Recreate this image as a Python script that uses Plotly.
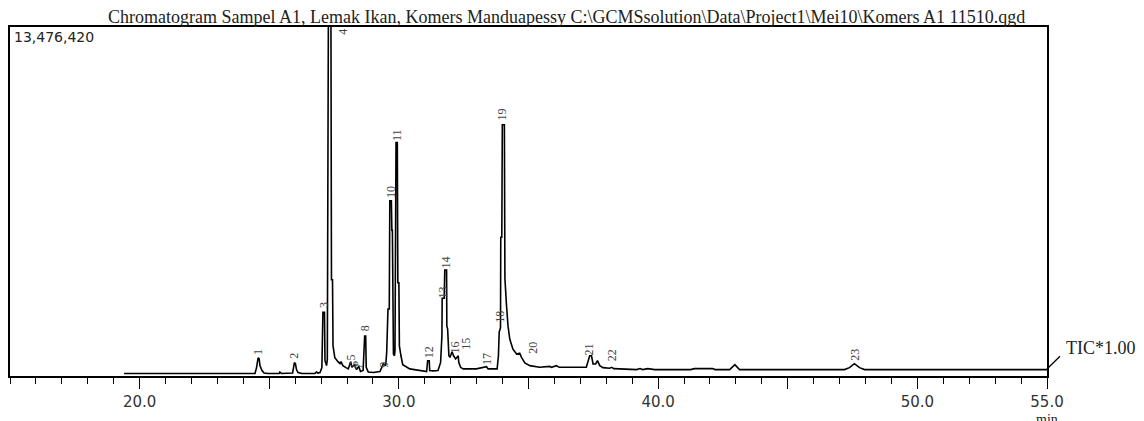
import plotly.graph_objects as go

# ---- data (retention time in min, intensity in % of 13,476,420) ----
rt_min = [19.40, 22.33, 24.45, 24.51, 24.57, 24.61, 24.64, 24.72, 24.80, 24.95,
          25.38, 25.41, 25.47, 25.90, 25.93, 25.97, 26.01, 26.05, 26.11, 26.26,
          26.76, 26.82, 26.88, 26.96, 27.03, 27.07, 27.13, 27.15, 27.21, 27.24,
          27.28, 27.38, 27.40, 27.44, 27.46, 27.53, 27.65, 27.73, 27.77, 27.84,
          27.96, 28.05, 28.14, 28.19, 28.28, 28.37, 28.45, 28.52, 28.62, 28.68,
          28.72, 28.74, 28.82, 29.01, 29.27, 29.40, 29.49, 29.53, 29.58, 29.63,
          29.65, 29.71, 29.73, 29.75, 29.79, 29.83, 29.85, 29.87, 29.89, 29.94,
          29.96, 30.00, 30.02, 30.08, 30.15, 30.42, 30.81, 30.94, 31.07, 31.11,
          31.17, 31.19, 31.32, 31.51, 31.61, 31.66, 31.67, 31.75, 31.77, 31.84,
          31.85, 31.88, 31.93, 31.97, 32.05, 32.11, 32.19, 32.29, 32.31, 32.38,
          32.48, 32.99, 33.38, 33.44, 33.79, 33.84, 33.87, 33.92, 33.93, 33.97,
          33.99, 34.07, 34.09, 34.15, 34.21, 34.28, 34.40, 34.54, 34.66, 34.73,
          34.86, 35.05, 35.43, 35.82, 35.88, 36.08, 36.18, 37.23, 37.29, 37.36,
          37.43, 37.49, 37.59, 37.66, 37.75, 37.87, 38.13, 38.21, 38.29, 39.17,
          39.30, 39.40, 39.60, 39.87, 41.25, 41.40, 42.10, 42.20, 42.76, 42.96,
          43.14, 47.19, 47.38, 47.57, 47.77, 47.96, 55.00]
intensity_pct = [0.71, 0.71, 0.71, 2.40, 5.23, 4.95, 2.97, 1.56, 0.85, 0.71,
                 0.71, 1.13, 0.71, 0.85, 2.40, 3.82, 3.54, 1.84, 0.99, 0.71,
                 0.71, 1.13, 0.85, 0.99, 2.40, 18.25, 18.25, 4.38, 2.97, 4.67,
                 101.0, 101.0, 27.58, 27.58, 8.63, 5.23, 4.10, 3.54, 4.10, 2.97,
                 2.40, 2.04, 4.10, 2.49, 3.17, 1.84, 2.77, 1.27, 1.56, 11.46,
                 11.46, 2.49, 1.13, 0.99, 1.27, 3.45, 2.97, 6.73, 19.18, 19.18,
                 50.21, 50.21, 41.73, 41.73, 6.28, 5.80, 7.21, 26.73, 66.90, 66.90,
                 26.73, 26.73, 8.63, 5.80, 3.25, 2.04, 1.70, 1.56, 1.27, 4.38,
                 4.38, 1.56, 1.47, 1.56, 3.90, 11.46, 22.29, 22.29, 30.33, 30.33,
                 14.29, 13.52, 5.80, 5.32, 6.93, 5.80, 4.87, 5.80, 3.90, 2.49,
                 2.04, 2.04, 2.69, 2.04, 2.04, 5.80, 12.59, 13.80, 39.75, 39.75,
                 72.00, 72.00, 27.95, 20.42, 14.29, 10.52, 7.69, 6.28, 6.56, 5.32,
                 3.73, 2.97, 2.49, 2.77, 2.49, 2.97, 2.49, 2.49, 4.38, 5.80,
                 5.80, 3.45, 3.45, 4.38, 2.97, 2.40, 2.21, 2.49, 2.12, 1.84,
                 2.12, 1.84, 2.12, 1.84, 1.84, 2.12, 2.12, 1.84, 1.84, 3.25,
                 1.84, 1.84, 2.40, 3.54, 2.40, 1.84, 1.84]

peak_labels = ["1", "2", "3", "4", "5", "6", "7", "8", "9", "10", "11", "12",
               "13", "14", "16", "15", "17", "18", "19", "20", "21", "22", "23"]
label_rt = [24.57, 25.95, 27.11, 27.84, 28.14, 28.28, 28.45, 28.70, 29.42, 29.67,
            29.92, 31.14, 31.71, 31.81, 32.18, 32.58, 33.40, 33.89, 33.99, 35.17,
            37.37, 38.23, 47.58]
label_pct = [6.9, 5.8, 20.3, 98.6, 5.2, 3.5, 2.7, 13.7, 3.2, 52.8,
             69.0, 6.9, 24.0, 32.5, 8.3, 9.2, 4.9, 16.9, 75.0, 8.1,
             7.6, 6.0, 6.0]

x_tick_vals = [20, 25, 30, 35, 40, 45, 50, 55]
x_tick_text = ["20.0", "", "30.0", "", "40.0", "", "50.0", "55.0"]

title_text = ("Chromatogram Sampel A1, Lemak Ikan, Komers Manduapessy "
              "C:\\GCMSsolution\\Data\\Project1\\Mei10\\Komers A1 11510.qgd")
max_intensity_text = "13,476,420"

fig = go.Figure()
fig.add_trace(go.Scatter(x=rt_min, y=intensity_pct, mode="lines",
                         line=dict(color="black", width=1.6), hoverinfo="skip"))

for lab, xr, yp in zip(peak_labels, label_rt, label_pct):
    fig.add_annotation(x=xr, y=yp, xref="x", yref="y", text=lab, showarrow=False,
                       textangle=-90, xanchor="center", yanchor="middle",
                       font=dict(family="Liberation Serif", size=12, color="#444444"))

fig.update_layout(
    width=1144, height=421,
    margin=dict(l=10, r=97, t=27, b=41),
    paper_bgcolor="white", plot_bgcolor="white",
    showlegend=False,
    xaxis=dict(range=[15, 55], showgrid=False, zeroline=False,
               showline=True, linecolor="black", linewidth=1.5, mirror=True,
               tickmode="array", tickvals=x_tick_vals, ticktext=x_tick_text,
               ticks="outside", ticklen=11, tickwidth=1.3, tickcolor="black",
               tickfont=dict(family="DejaVu Sans", size=15, color="#333333"),
               minor=dict(dtick=1, tick0=15, ticks="outside", ticklen=6,
                          tickwidth=1.1, tickcolor="black", showgrid=False)),
    yaxis=dict(range=[0, 100], showgrid=False, zeroline=False,
               showline=True, linecolor="black", linewidth=1.5, mirror=True,
               showticklabels=False, ticks=""),
)

# title
fig.add_annotation(x=(106 - 10) / 1037, y=1.0, xref="paper", yref="paper",
                   text=title_text, showarrow=False, xanchor="left", yanchor="bottom",
                   yshift=-2, font=dict(family="Liberation Serif", size=18, color="#222222"))
# max intensity
fig.add_annotation(x=0.002, y=1.0, xref="paper", yref="paper", text=max_intensity_text,
                   showarrow=False, xanchor="left", yanchor="top",
                   font=dict(family="DejaVu Sans", size=14, color="#222222"))
# TIC leader and label
fig.add_shape(type="line", xref="paper", yref="paper",
              x0=1.0, y0=(380 - 373) / 353, x1=(1060 - 10) / 1037, y1=(380 - 360) / 353,
              line=dict(color="black", width=1.3))
fig.add_annotation(x=(1064 - 10) / 1037, y=(380 - 352) / 353, xref="paper", yref="paper",
                   text="TIC*1.00", showarrow=False, xanchor="left", yanchor="middle",
                   font=dict(family="Liberation Serif", size=18, color="#222222"))
# axis unit
fig.add_annotation(x=55, y=0, xref="x", yref="paper", text="min", showarrow=False,
                   xanchor="center", yanchor="top", yshift=-34,
                   font=dict(family="Liberation Serif", size=14, color="#222222"))

fig.write_html("out.html", config={"displayModeBar": False},
               post_script="document.body.style.margin='0px';")
